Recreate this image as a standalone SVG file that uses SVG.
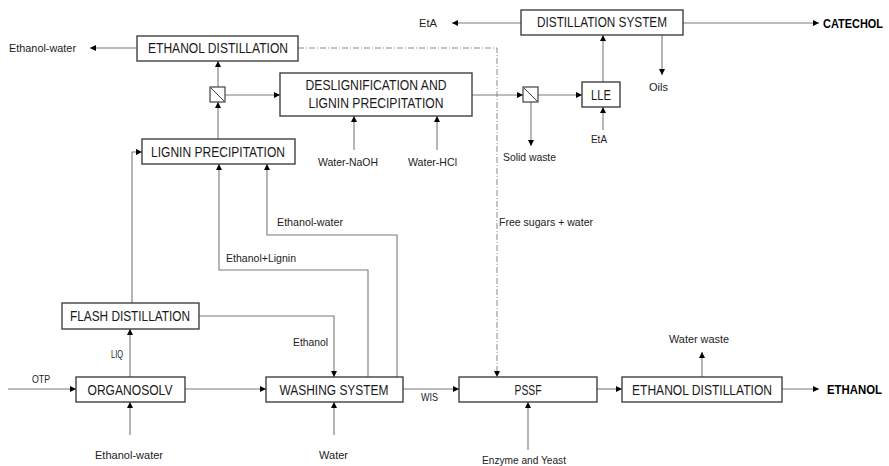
<svg xmlns="http://www.w3.org/2000/svg" width="889" height="466" viewBox="0 0 889 466">
  <style>
    .box { fill: #ffffff; stroke: #404040; stroke-width: 1.4; }
    .split { fill: #ffffff; stroke: #404040; stroke-width: 1.2; }
    .line { fill: none; stroke: #7a7a7a; stroke-width: 1.1; }
    .arrow { marker-end: url(#head); }
    .dash { fill: none; stroke: #8a8a8a; stroke-width: 1; stroke-dasharray: 6 2 1 2; }
    .name { font-family: "Liberation Sans", Arial, sans-serif; font-size: 14px; fill: #1a1a1a; text-anchor: middle; }
    .lbl { font-family: "Liberation Sans", Arial, sans-serif; font-size: 11px; fill: #222222; }
    .prod { font-family: "Liberation Sans", Arial, sans-serif; font-size: 12px; font-weight: bold; fill: #000000; }
  </style>
  <defs>
    <marker id="head" viewBox="0 0 10 10" refX="10" refY="5" markerWidth="6" markerHeight="6" markerUnits="userSpaceOnUse" orient="auto">
      <path d="M0,0 L10,5 L0,10 z" fill="#000000"/>
    </marker>
  </defs>
  <rect width="889" height="466" fill="#ffffff"/>

  <!-- connectors -->
  <g id="connectors">
    <!-- catechol branch -->
    <line class="line arrow" x1="137" y1="48" x2="90" y2="48"/>
    <line class="line arrow" x1="218" y1="139" x2="218" y2="102"/>
    <line class="line arrow" x1="218" y1="87" x2="218" y2="61"/>
    <line class="line arrow" x1="225" y1="95" x2="280" y2="95"/>
    <line class="line arrow" x1="354" y1="150" x2="354" y2="116"/>
    <line class="line arrow" x1="437" y1="150" x2="437" y2="116"/>
    <line class="line arrow" x1="472" y1="95" x2="523" y2="95"/>
    <line class="line arrow" x1="538" y1="95" x2="582" y2="95"/>
    <line class="line arrow" x1="531" y1="102" x2="531" y2="146"/>
    <line class="line arrow" x1="603" y1="130" x2="603" y2="107"/>
    <line class="line arrow" x1="603" y1="82" x2="603" y2="35"/>
    <line class="line arrow" x1="662" y1="35" x2="662" y2="75"/>
    <line class="line arrow" x1="521" y1="23" x2="452" y2="23"/>
    <line class="line arrow" x1="683" y1="23" x2="819" y2="23"/>
    <!-- free sugars stream -->
    <polyline class="dash arrow" points="298,48 497,48 497,377"/>
    <!-- ethanol branch -->
    <line class="line arrow" x1="8" y1="389" x2="76" y2="389"/>
    <line class="line arrow" x1="130" y1="435" x2="130" y2="402"/>
    <line class="line arrow" x1="130" y1="377" x2="130" y2="329"/>
    <polyline class="line arrow" points="132,303 132,152 142,152"/>
    <line class="line arrow" x1="185" y1="389" x2="266" y2="389"/>
    <polyline class="line arrow" points="199,316 334,316 334,377"/>
    <line class="line arrow" x1="334" y1="435" x2="334" y2="402"/>
    <polyline class="line arrow" points="368,377 368,270 219,270 219,164"/>
    <polyline class="line arrow" points="397,377 397,235 267,235 267,164"/>
    <line class="line arrow" x1="403" y1="389" x2="459" y2="389"/>
    <line class="line arrow" x1="528" y1="450" x2="528" y2="402"/>
    <line class="line arrow" x1="597" y1="389" x2="622" y2="389"/>
    <line class="line arrow" x1="702" y1="377" x2="702" y2="352"/>
    <line class="line arrow" x1="782" y1="389" x2="819" y2="389"/>
  </g>

  <!-- process units -->
  <g id="ethanol-distillation-top">
    <rect class="box" x="137" y="36" width="161" height="25"/>
    <text class="name" x="218" y="53" textLength="140" lengthAdjust="spacingAndGlyphs">ETHANOL DISTILLATION</text>
  </g>
  <g id="splitter-1">
    <rect class="split" x="210" y="87" width="15" height="15"/>
    <line x1="211" y1="88" x2="224" y2="101" stroke="#404040" stroke-width="1"/>
  </g>
  <g id="lignin-precipitation">
    <rect class="box" x="142" y="139" width="153" height="25"/>
    <text class="name" x="218" y="157" textLength="134" lengthAdjust="spacingAndGlyphs">LIGNIN PRECIPITATION</text>
  </g>
  <g id="deslignification">
    <rect class="box" x="280" y="73" width="192" height="43"/>
    <text class="name" x="376" y="90" textLength="141" lengthAdjust="spacingAndGlyphs">DESLIGNIFICATION AND</text>
    <text class="name" x="376" y="108" textLength="135" lengthAdjust="spacingAndGlyphs">LIGNIN PRECIPITATION</text>
  </g>
  <g id="splitter-2">
    <rect class="split" x="523" y="87" width="15" height="15"/>
    <line x1="524" y1="88" x2="537" y2="101" stroke="#404040" stroke-width="1"/>
  </g>
  <g id="lle">
    <rect class="box" x="582" y="82" width="38" height="25"/>
    <text class="name" x="601" y="100" textLength="20" lengthAdjust="spacingAndGlyphs">LLE</text>
  </g>
  <g id="distillation-system">
    <rect class="box" x="521" y="10" width="162" height="25"/>
    <text class="name" x="602" y="27" textLength="130" lengthAdjust="spacingAndGlyphs">DISTILLATION SYSTEM</text>
  </g>
  <g id="flash-distillation">
    <rect class="box" x="62" y="303" width="137" height="26"/>
    <text class="name" x="130" y="321" textLength="120" lengthAdjust="spacingAndGlyphs">FLASH DISTILLATION</text>
  </g>
  <g id="organosolv">
    <rect class="box" x="76" y="377" width="109" height="25"/>
    <text class="name" x="130" y="395" textLength="85" lengthAdjust="spacingAndGlyphs">ORGANOSOLV</text>
  </g>
  <g id="washing-system">
    <rect class="box" x="266" y="377" width="137" height="25"/>
    <text class="name" x="334" y="395" textLength="109" lengthAdjust="spacingAndGlyphs">WASHING SYSTEM</text>
  </g>
  <g id="pssf">
    <rect class="box" x="459" y="377" width="138" height="25"/>
    <text class="name" x="528" y="395" textLength="27" lengthAdjust="spacingAndGlyphs">PSSF</text>
  </g>
  <g id="ethanol-distillation-bottom">
    <rect class="box" x="622" y="377" width="160" height="25"/>
    <text class="name" x="702" y="395" textLength="140" lengthAdjust="spacingAndGlyphs">ETHANOL DISTILLATION</text>
  </g>

  <!-- stream labels -->
  <g id="labels">
    <text class="lbl" x="9" y="52" textLength="67" lengthAdjust="spacingAndGlyphs">Ethanol-water</text>
    <text class="lbl" x="419" y="27" textLength="18" lengthAdjust="spacingAndGlyphs">EtA</text>
    <text class="lbl" x="318" y="166" textLength="60" lengthAdjust="spacingAndGlyphs">Water-NaOH</text>
    <text class="lbl" x="408" y="166" textLength="49" lengthAdjust="spacingAndGlyphs">Water-HCl</text>
    <text class="lbl" x="503" y="161" textLength="53" lengthAdjust="spacingAndGlyphs">Solid waste</text>
    <text class="lbl" x="591" y="143" textLength="16" lengthAdjust="spacingAndGlyphs">EtA</text>
    <text class="lbl" x="649" y="91" textLength="19" lengthAdjust="spacingAndGlyphs">Oils</text>
    <text class="lbl" x="277" y="226" textLength="66" lengthAdjust="spacingAndGlyphs">Ethanol-water</text>
    <text class="lbl" x="226" y="262" textLength="70" lengthAdjust="spacingAndGlyphs">Ethanol+Lignin</text>
    <text class="lbl" x="499" y="226" textLength="94" lengthAdjust="spacingAndGlyphs">Free sugars + water</text>
    <text class="lbl" x="32" y="383" textLength="18" lengthAdjust="spacingAndGlyphs">OTP</text>
    <text class="lbl" x="111" y="358" textLength="12" lengthAdjust="spacingAndGlyphs">LIQ</text>
    <text class="lbl" x="293" y="346" textLength="35" lengthAdjust="spacingAndGlyphs">Ethanol</text>
    <text class="lbl" x="95" y="459" textLength="68" lengthAdjust="spacingAndGlyphs">Ethanol-water</text>
    <text class="lbl" x="319" y="459" textLength="29" lengthAdjust="spacingAndGlyphs">Water</text>
    <text class="lbl" x="421" y="401" textLength="17" lengthAdjust="spacingAndGlyphs">WIS</text>
    <text class="lbl" x="669" y="343" textLength="60" lengthAdjust="spacingAndGlyphs">Water waste</text>
    <text class="lbl" x="482" y="464" textLength="84" lengthAdjust="spacingAndGlyphs">Enzyme and Yeast</text>
    <text class="prod" x="823" y="28" textLength="60" lengthAdjust="spacingAndGlyphs">CATECHOL</text>
    <text class="prod" x="827" y="394" textLength="55" lengthAdjust="spacingAndGlyphs">ETHANOL</text>
  </g>
</svg>
